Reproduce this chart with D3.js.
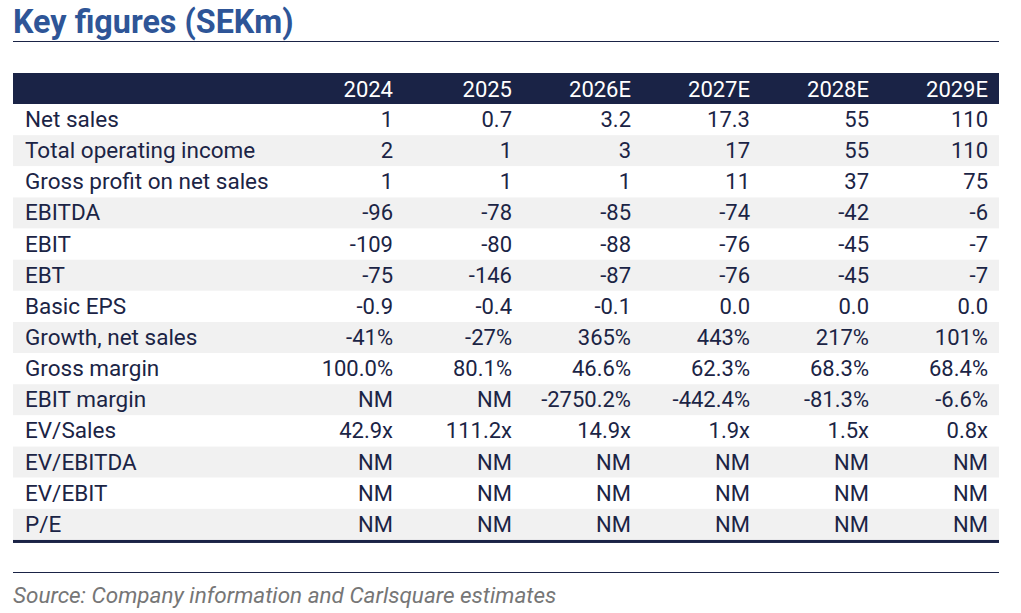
<!DOCTYPE html>
<html>
<head>
<meta charset="utf-8">
<script src="https://cdn.jsdelivr.net/npm/d3@7"></script>
<style>
  body { margin: 0; background: #fff; }
  svg text { font-family: Roboto, "Noto Sans", sans-serif; }
</style>
</head>
<body>
<svg id="chart" width="1021" height="613"></svg>
<script>
// table content
const years = ["2024", "2025", "2026E", "2027E", "2028E", "2029E"];
const rowLabels = ["Net sales", "Total operating income", "Gross profit on net sales", "EBITDA", "EBIT", "EBT",
    "Basic EPS", "Growth, net sales", "Gross margin", "EBIT margin", "EV/Sales", "EV/EBITDA", "EV/EBIT", "P/E"];
const netSales     = ["1", "0.7", "3.2", "17.3", "55", "110"];
const totalOpInc   = ["2", "1", "3", "17", "55", "110"];
const grossProfit  = ["1", "1", "1", "11", "37", "75"];
const ebitda       = ["-96", "-78", "-85", "-74", "-42", "-6"];
const ebit         = ["-109", "-80", "-88", "-76", "-45", "-7"];
const ebt          = ["-75", "-146", "-87", "-76", "-45", "-7"];
const basicEps     = ["-0.9", "-0.4", "-0.1", "0.0", "0.0", "0.0"];
const growthSales  = ["-41%", "-27%", "365%", "443%", "217%", "101%"];
const grossMargin  = ["100.0%", "80.1%", "46.6%", "62.3%", "68.3%", "68.4%"];
const ebitMargin   = ["NM", "NM", "-2750.2%", "-442.4%", "-81.3%", "-6.6%"];
const evSales      = ["42.9x", "111.2x", "14.9x", "1.9x", "1.5x", "0.8x"];
const evEbitda     = ["NM", "NM", "NM", "NM", "NM", "NM"];
const evEbit       = ["NM", "NM", "NM", "NM", "NM", "NM"];
const pe           = ["NM", "NM", "NM", "NM", "NM", "NM"];

const rowValues = [netSales, totalOpInc, grossProfit, ebitda, ebit, ebt, basicEps,
    growthSales, grossMargin, ebitMargin, evSales, evEbitda, evEbit, pe];

const svg = d3.select("#chart");
const left = 13, right = 999;
const navy = "#1a2346", ink = "#1b2445";

// title
svg.append("text")
    .attr("x", 13).attr("y", 33)
    .attr("font-size", 32.3).attr("font-weight", 700)
    .attr("fill", "#2e5597")
    .text("Key figures (SEKm)");
svg.append("line")
    .attr("x1", left).attr("x2", right).attr("y1", 41.5).attr("y2", 41.5)
    .attr("stroke", navy).attr("stroke-width", 1);

// column scale: right edges of the number columns
const x = d3.scalePoint().domain(years).range([393, 988]);
// row scale: data rows under the header band
const rowH = 31.14;
const y = d3.scaleBand().domain(rowLabels).range([104, 104 + rowH * rowLabels.length]);

// header band
svg.append("rect")
    .attr("x", left).attr("y", 73).attr("width", right - left).attr("height", 31)
    .attr("fill", navy);
svg.selectAll(".yr").data(years).join("text")
    .attr("class", "yr")
    .attr("x", d => x(d)).attr("y", 97)
    .attr("text-anchor", "end").attr("font-size", 22).attr("fill", "#fff")
    .text(d => d);

// rows
const rows = svg.selectAll(".row").data(rowLabels).join("g")
    .attr("class", "row")
    .attr("transform", d => `translate(0,${y(d)})`);

rows.append("rect")
    .attr("x", left).attr("width", right - left).attr("height", y.bandwidth())
    .attr("fill", (d, i) => i % 2 === 1 ? "#f1f1f1" : "#fff");

rows.append("text")
    .attr("x", 25).attr("y", 23)
    .attr("font-size", 22.5).attr("fill", ink)
    .text(d => d);

rows.each(function(d, i) {
    d3.select(this).selectAll(".val").data(rowValues[i]).join("text")
        .attr("class", "val")
        .attr("x", (v, j) => x(years[j])).attr("y", 23)
        .attr("text-anchor", "end").attr("font-size", 22).attr("fill", ink)
        .text(v => v);
});

// bottom rules
const tableBottom = y.range()[1];
svg.append("rect")
    .attr("x", left).attr("y", tableBottom).attr("width", right - left).attr("height", 3)
    .attr("fill", navy);
svg.append("line")
    .attr("x1", left).attr("x2", right).attr("y1", 572.5).attr("y2", 572.5)
    .attr("stroke", navy).attr("stroke-width", 1);

svg.append("text")
    .attr("x", 13).attr("y", 603)
    .attr("font-size", 22.5).attr("font-style", "italic").attr("fill", "#767676")
    .text("Source: Company information and Carlsquare estimates");
</script>
</body>
</html>
